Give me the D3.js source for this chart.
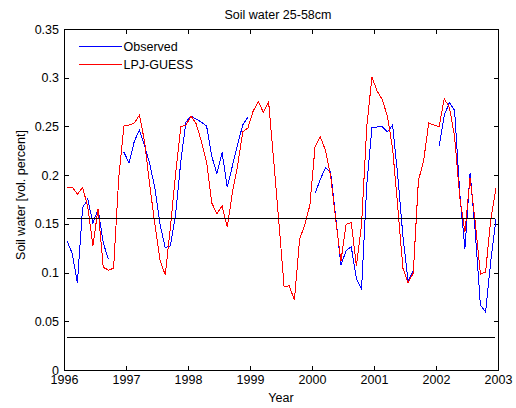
<!DOCTYPE html>
<html>
<head>
<meta charset="utf-8">
<script src="https://cdn.jsdelivr.net/npm/d3@7"></script>
<style>
body { margin: 0; background: #fff; }
text { font-family: "Liberation Sans", Arial, Helvetica, sans-serif; font-size: 12.5px; fill: #000; }
</style>
</head>
<body>
<svg id="chart" width="516" height="408"></svg>
<script>
// monthly values, Jan 1996 .. Dec 2002 (null = no observation)
var years = [1996, 1997, 1998, 1999, 2000, 2001, 2002];

var observed = [
  0.133, 0.120, 0.090, 0.167, 0.176, 0.151, 0.166, 0.131, 0.114, null, null, 0.224,
  0.213, 0.235, 0.247, 0.231, 0.212, 0.187, 0.150, 0.126, 0.128, 0.160, 0.214, 0.255,
  0.261, 0.258, 0.255, 0.251, 0.220, 0.202, 0.224, 0.188, 0.210, 0.232, 0.252, 0.260,
  null, null, null, null, null, null, null, null, null, null, null, null,
  0.182, 0.196, 0.208, 0.204, 0.157, 0.108, 0.123, 0.127, 0.094, 0.084, 0.190, 0.249,
  0.250, 0.250, 0.245, 0.252, 0.200, 0.138, 0.092, 0.103, null, null, null, null,
  0.230, 0.262, 0.275, 0.267, 0.182, 0.125, 0.203, 0.142, 0.067, 0.060, 0.112, 0.155
];

var lpjGuess = [
  0.188, 0.188, 0.181, 0.188, 0.168, 0.128, 0.166, 0.106, 0.103, 0.105, 0.198, 0.251,
  0.252, 0.254, 0.262, 0.235, 0.190, 0.150, 0.113, 0.098, 0.147, 0.202, 0.250, 0.252,
  0.261, 0.253, 0.235, 0.214, 0.172, 0.161, 0.169, 0.147, 0.183, 0.210, 0.245, 0.249,
  0.266, 0.276, 0.265, 0.276, 0.215, 0.152, 0.086, 0.087, 0.072, 0.135, 0.149, 0.170,
  0.230, 0.240, 0.226, 0.200, 0.155, 0.112, 0.150, 0.152, 0.107, 0.150, 0.250, 0.301,
  0.287, 0.278, 0.261, 0.228, 0.168, 0.105, 0.090, 0.100, 0.195, 0.215, 0.254, 0.252,
  0.250, 0.279, 0.270, 0.240, 0.178, 0.142, 0.198, 0.152, 0.099, 0.101, 0.155, 0.187
];

var refLevels = [0.1555, 0.0335];

var xTicks = [1996, 1997, 1998, 1999, 2000, 2001, 2002, 2003];
var yTicks = [0, 0.05, 0.1, 0.15, 0.2, 0.25, 0.3, 0.35];

var seriesNames = ["Observed", "LPJ-GUESS"];
var seriesColors = ["#0000ff", "#ff0000"];

// mid-month time stamps in decimal years
var times = [];
years.forEach(function(yr) {
  for (var m = 0; m < 12; m++) times.push(yr + (m + 0.5) / 12);
});

var svg = d3.select("#chart");

var x = d3.scaleLinear().domain([1996, 2003]).range([64, 498]);
var y = d3.scaleLinear().domain([0, 0.35]).range([370, 29]);

function styleAxis(g) {
  g.attr("font-family", null).attr("font-size", null);
  g.selectAll("path, line").attr("stroke", "#000").attr("shape-rendering", "crispEdges");
}

svg.append("g").attr("transform", "translate(0,370)")
  .call(d3.axisBottom(x).tickValues(xTicks).tickFormat(function(d) { return String(d); })
    .tickSizeInner(-4.5).tickSizeOuter(0).tickPadding(5))
  .call(styleAxis);

svg.append("g").attr("transform", "translate(0,29)")
  .call(d3.axisTop(x).tickValues(xTicks).tickFormat("").tickSizeInner(-4.5).tickSizeOuter(0))
  .call(styleAxis);

svg.append("g").attr("transform", "translate(64,0)")
  .call(d3.axisLeft(y).tickValues(yTicks).tickFormat(function(d) { return String(d); })
    .tickSizeInner(-4.5).tickSizeOuter(0).tickPadding(5))
  .call(styleAxis);

svg.append("g").attr("transform", "translate(498,0)")
  .call(d3.axisRight(y).tickValues(yTicks).tickFormat("").tickSizeInner(-4.5).tickSizeOuter(0))
  .call(styleAxis);

var line = d3.line()
  .defined(function(d) { return d[1] != null; })
  .x(function(d) { return x(d[0]) + 0.5; })
  .y(function(d) { return y(d[1]) + 0.5; });

[observed, lpjGuess].forEach(function(vals, i) {
  svg.append("path")
    .datum(times.map(function(t, k) { return [t, vals[k]]; }))
    .attr("fill", "none")
    .attr("stroke", seriesColors[i])
    .attr("stroke-width", 1)
    .attr("shape-rendering", "crispEdges")
    .attr("d", line);
});

// reference levels
svg.selectAll(".ref").data(refLevels).enter().append("line")
  .attr("class", "ref")
  .attr("x1", x(times[0]))
  .attr("x2", x(times[times.length - 1]))
  .attr("y1", function(d) { return Math.round(y(d)) + 0.5; })
  .attr("y2", function(d) { return Math.round(y(d)) + 0.5; })
  .attr("stroke", "#000")
  .attr("shape-rendering", "crispEdges");

// legend
var leg = svg.append("g");
seriesNames.forEach(function(name, i) {
  var ly = 46.5 + i * 18;
  leg.append("line")
    .attr("x1", 79).attr("x2", 122)
    .attr("y1", ly).attr("y2", ly)
    .attr("stroke", seriesColors[i])
    .attr("shape-rendering", "crispEdges");
  leg.append("text")
    .attr("x", 123.5).attr("y", ly + 4.5)
    .text(name);
});

// titles
svg.append("text")
  .attr("x", 278).attr("y", 18.5)
  .attr("text-anchor", "middle")
  .text("Soil water 25-58cm");

svg.append("text")
  .attr("x", 281).attr("y", 401.5)
  .attr("text-anchor", "middle")
  .text("Year");

svg.append("text")
  .attr("transform", "translate(25,195) rotate(-90)")
  .attr("text-anchor", "middle")
  .text("Soil water [vol. percent]");
</script>
</body>
</html>
